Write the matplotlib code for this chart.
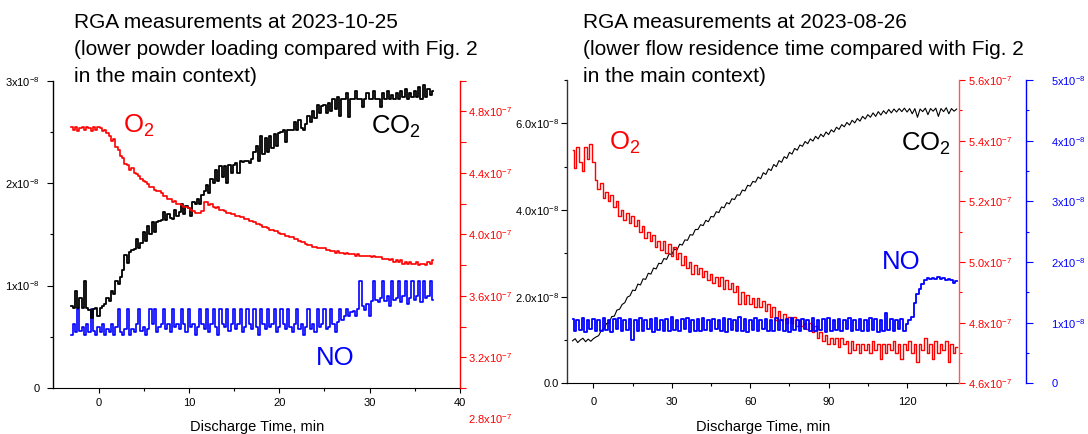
import numpy as np
import matplotlib.pyplot as plt

plt.rcParams['font.family'] = ['Liberation Sans', 'DejaVu Sans']
plt.rcParams['mathtext.fontset'] = 'custom'
plt.rcParams['mathtext.rm'] = 'Liberation Sans'
plt.rcParams['mathtext.it'] = 'Liberation Sans:italic'
plt.rcParams['mathtext.bf'] = 'Liberation Sans:bold'

# ---- left panel: 2023-10-25, one sample every 0.25 min from -3 min ----
co2_a = [  # x1e-8
    0.80, 0.78, 0.95, 0.78, 0.88, 0.78, 1.04, 0.78,
    0.76, 0.68, 0.77, 0.78, 0.70, 0.78, 0.80, 0.82,
    0.88, 0.85, 0.95, 0.92, 1.04, 1.02, 1.08, 1.15,
    1.30, 1.22, 1.33, 1.35, 1.36, 1.45, 1.37, 1.42,
    1.52, 1.44, 1.58, 1.50, 1.62, 1.52, 1.62, 1.63,
    1.64, 1.72, 1.64, 1.70, 1.66, 1.65, 1.74, 1.68,
    1.72, 1.80, 1.70, 1.78, 1.76, 1.68, 1.82, 1.80,
    1.85, 1.80, 1.88, 1.92, 1.98, 1.90, 2.04, 2.00,
    2.13, 2.02, 2.17, 2.06, 2.17, 2.00, 2.18, 2.10,
    2.18, 2.20, 2.10, 2.22, 2.21, 2.22, 2.22, 2.20,
    2.24, 2.30, 2.36, 2.22, 2.46, 2.28, 2.44, 2.30,
    2.46, 2.34, 2.48, 2.36, 2.49, 2.50, 2.52, 2.40,
    2.52, 2.52, 2.52, 2.60, 2.52, 2.62, 2.54, 2.52,
    2.58, 2.66, 2.60, 2.70, 2.64, 2.76, 2.68, 2.75,
    2.76, 2.68, 2.78, 2.70, 2.82, 2.72, 2.84, 2.66,
    2.82, 2.82, 2.88, 2.65, 2.82, 2.82, 2.90, 2.82,
    2.82, 2.74, 2.82, 2.88, 2.82, 2.82, 2.90, 2.82,
    2.82, 2.74, 2.88, 2.82, 2.90, 2.82, 2.86, 2.82,
    2.88, 2.82, 2.90, 2.84, 2.92, 2.82, 2.88, 2.84,
    2.90, 2.84, 2.94, 2.82, 2.96, 2.84, 2.92, 2.86,
    2.90,
]
o2_a = [  # x1e-7
    4.70, 4.68, 4.70, 4.67, 4.69, 4.70, 4.68, 4.70,
    4.69, 4.67, 4.70, 4.68, 4.70, 4.69, 4.67, 4.68,
    4.66, 4.64, 4.61, 4.62, 4.57, 4.55, 4.51, 4.50,
    4.46, 4.45, 4.42, 4.43, 4.40, 4.39, 4.38, 4.36,
    4.35, 4.34, 4.33, 4.31, 4.31, 4.29, 4.28, 4.28,
    4.27, 4.25, 4.25, 4.23, 4.23, 4.21, 4.22, 4.20,
    4.20, 4.19, 4.18, 4.18, 4.17, 4.16, 4.15, 4.14,
    4.14, 4.14, 4.15, 4.21, 4.21, 4.19, 4.20, 4.18,
    4.17, 4.18, 4.16, 4.16, 4.15, 4.14, 4.14, 4.13,
    4.13, 4.12, 4.12, 4.11, 4.11, 4.10, 4.10, 4.09,
    4.09, 4.08, 4.07, 4.07, 4.06, 4.05, 4.05, 4.04,
    4.03, 4.03, 4.02, 4.02, 4.01, 4.00, 4.00, 3.99,
    3.99, 3.98, 3.98, 3.97, 3.97, 3.96, 3.95, 3.95,
    3.94, 3.93, 3.93, 3.92, 3.92, 3.91, 3.91, 3.91,
    3.91, 3.90, 3.90, 3.89, 3.89, 3.88, 3.89, 3.88,
    3.88, 3.87, 3.88, 3.87, 3.87, 3.87, 3.86, 3.87,
    3.86, 3.86, 3.86, 3.86, 3.86, 3.85, 3.86, 3.85,
    3.85, 3.85, 3.84, 3.84, 3.84, 3.83, 3.84, 3.82,
    3.83, 3.82, 3.83, 3.81, 3.82, 3.81, 3.82, 3.81,
    3.81, 3.82, 3.80, 3.81, 3.81, 3.80, 3.82, 3.81,
    3.83,
]
no_a = [  # x1e-8
    0.52, 0.62, 0.55, 0.77, 0.56, 0.60, 0.52, 0.62,
    0.55, 0.77, 0.56, 0.52, 0.60, 0.55, 0.62, 0.52,
    0.58, 0.55, 0.62, 0.52, 0.60, 0.77, 0.55, 0.52,
    0.58, 0.77, 0.52, 0.58, 0.55, 0.62, 0.77, 0.56,
    0.60, 0.52, 0.58, 0.77, 0.62, 0.77, 0.55, 0.60,
    0.62, 0.77, 0.58, 0.62, 0.55, 0.77, 0.60, 0.62,
    0.58, 0.77, 0.62, 0.55, 0.77, 0.60, 0.62, 0.52,
    0.60, 0.77, 0.62, 0.58, 0.77, 0.55, 0.62, 0.77,
    0.60, 0.52, 0.77, 0.62, 0.60, 0.77, 0.56, 0.62,
    0.77, 0.58, 0.62, 0.77, 0.55, 0.60, 0.77, 0.62,
    0.58, 0.77, 0.60, 0.52, 0.77, 0.62, 0.58, 0.77,
    0.60, 0.62, 0.77, 0.55, 0.60, 0.77, 0.62, 0.58,
    0.77, 0.60, 0.55, 0.62, 0.77, 0.58, 0.62, 0.52,
    0.60, 0.77, 0.58, 0.62, 0.55, 0.77, 0.60, 0.62,
    0.77, 0.58, 0.60, 0.77, 0.62, 0.55, 0.64, 0.77,
    0.66, 0.70, 0.77, 0.70, 0.74, 0.75, 0.70, 0.77,
    1.04, 0.80, 0.76, 0.82, 0.70, 0.85, 1.04, 0.86,
    0.84, 0.88, 1.04, 0.85, 0.90, 0.80, 1.04, 0.86,
    0.88, 1.04, 0.84, 0.90, 1.04, 0.82, 0.88, 1.04,
    0.86, 0.90, 1.04, 0.84, 1.04, 0.88, 0.90, 1.04,
    0.86,
]

# ---- right panel: 2023-08-26, one sample per minute from -8 min ----
co2_b = [  # x1e-8
    0.98, 1.03, 0.94, 1.00, 1.04, 0.96, 1.02, 0.97, 1.03, 1.07,
    1.10, 1.22, 1.25, 1.38, 1.39, 1.54, 1.55, 1.69, 1.71, 1.82,
    1.86, 1.99, 2.02, 2.15, 2.14, 2.29, 2.27, 2.41, 2.40, 2.54,
    2.52, 2.66, 2.64, 2.77, 2.76, 2.88, 2.86, 2.99, 2.97, 3.10,
    3.08, 3.21, 3.19, 3.31, 3.30, 3.43, 3.42, 3.55, 3.55, 3.66,
    3.64, 3.76, 3.73, 3.85, 3.84, 3.96, 3.94, 4.07, 4.05, 4.17,
    4.14, 4.26, 4.24, 4.35, 4.34, 4.46, 4.44, 4.57, 4.55, 4.66,
    4.64, 4.76, 4.72, 4.86, 4.82, 4.95, 4.91, 5.05, 5.00, 5.14,
    5.10, 5.23, 5.19, 5.33, 5.29, 5.42, 5.38, 5.50, 5.47, 5.58,
    5.53, 5.64, 5.59, 5.70, 5.64, 5.75, 5.69, 5.80, 5.74, 5.85,
    5.80, 5.91, 5.86, 5.97, 5.92, 6.02, 5.96, 6.07, 6.01, 6.11,
    6.05, 6.16, 6.10, 6.20, 6.14, 6.24, 6.16, 6.27, 6.19, 6.29,
    6.22, 6.32, 6.24, 6.33, 6.26, 6.34, 6.27, 6.35, 6.26, 6.34,
    6.22, 6.34, 6.14, 6.33, 6.27, 6.35, 6.20, 6.34, 6.28, 6.35,
    6.16, 6.34, 6.27, 6.36, 6.22, 6.34, 6.28, 6.33,
]
o2_b = [  # x1e-7
    5.37, 5.31, 5.38, 5.33, 5.30, 5.38, 5.34, 5.39, 5.33, 5.27,
    5.24, 5.26, 5.21, 5.23, 5.20, 5.22, 5.18, 5.20, 5.15, 5.17,
    5.14, 5.16, 5.13, 5.15, 5.12, 5.14, 5.10, 5.12, 5.08, 5.10,
    5.07, 5.09, 5.05, 5.07, 5.04, 5.07, 5.03, 5.06, 5.02, 5.05,
    5.01, 5.03, 4.99, 5.02, 4.98, 5.00, 4.96, 4.99, 4.96, 4.98,
    4.95, 4.97, 4.94, 4.96, 4.93, 4.95, 4.92, 4.95, 4.91, 4.94,
    4.91, 4.93, 4.90, 4.92, 4.86, 4.90, 4.86, 4.89, 4.86, 4.88,
    4.85, 4.88, 4.85, 4.87, 4.84, 4.86, 4.82, 4.85, 4.81, 4.84,
    4.81, 4.83, 4.80, 4.82, 4.80, 4.82, 4.79, 4.81, 4.79, 4.80,
    4.78, 4.80, 4.77, 4.79, 4.75, 4.77, 4.74, 4.76, 4.73, 4.75,
    4.73, 4.75, 4.72, 4.75, 4.73, 4.74, 4.70, 4.74, 4.71, 4.73,
    4.70, 4.73, 4.71, 4.73, 4.70, 4.74, 4.71, 4.73, 4.68, 4.73,
    4.70, 4.73, 4.71, 4.74, 4.70, 4.73, 4.68, 4.73, 4.71, 4.74,
    4.70, 4.73, 4.67, 4.73, 4.71, 4.75, 4.70, 4.73, 4.68, 4.74,
    4.70, 4.73, 4.71, 4.74, 4.67, 4.73, 4.70, 4.72,
]
no_b = [  # x1e-8
    1.06, 0.86, 1.05, 0.88, 1.07, 0.85, 1.04, 0.90, 1.06, 0.87,
    1.05, 0.86, 1.08, 0.88, 1.05, 0.84, 1.06, 0.89, 1.07, 0.86,
    1.04, 0.88, 1.06, 0.72, 1.05, 0.87, 1.08, 0.86, 1.05, 0.89,
    1.06, 0.85, 1.07, 0.88, 1.04, 0.87, 1.06, 0.86, 1.09, 0.88,
    1.05, 0.86, 1.06, 0.89, 1.07, 0.85, 1.05, 0.87, 1.06, 0.86,
    1.08, 0.88, 1.05, 0.86, 1.06, 0.89, 1.04, 0.87, 1.07, 0.85,
    1.06, 0.88, 1.05, 0.86, 1.09, 0.87, 1.06, 0.84, 1.05, 0.88,
    1.07, 0.86, 1.05, 0.89, 1.06, 0.87, 1.04, 0.86, 1.08, 0.88,
    1.05, 0.87, 1.06, 0.85, 1.07, 0.88, 1.05, 0.86, 1.06, 0.89,
    1.04, 0.87, 1.08, 0.86, 1.05, 0.88, 1.06, 0.85, 1.07, 0.87,
    1.05, 0.88, 1.06, 0.86, 1.04, 0.89, 1.07, 0.86, 1.05, 0.88,
    1.06, 0.87, 1.05, 0.86, 1.08, 0.88, 1.06, 0.85, 1.05, 0.87,
    1.16, 0.88, 1.06, 0.86, 1.05, 0.89, 1.06, 0.87,
    0.98, 1.04, 1.10, 1.32, 1.47, 1.55, 1.64, 1.70, 1.73, 1.72,
    1.74, 1.72, 1.75, 1.72, 1.73, 1.71, 1.72, 1.70, 1.66, 1.68,
]

t_a = -3 + 0.25 * np.arange(len(co2_a))
t_b = -8 + np.arange(len(co2_b))

titles = [
    ["RGA measurements at 2023-10-25",
     "(lower powder loading compared with Fig. 2",
     "in the main context)"],
    ["RGA measurements at 2023-08-26",
     "(lower flow residence time compared with Fig. 2",
     "in the main context)"],
]


def sci(v, exp, fmt):
    if v == 0:
        return '0' if fmt == '{:g}' else '0.0'
    return fmt.format(v) + 'x10$^{%d}$' % exp


def style(ax, side, color, lab_pad, tick_len=4):
    ax.tick_params(axis='y', which='both', direction='out', colors=color,
                   labelsize=8, pad=lab_pad, width=0.8)
    ax.tick_params(axis='y', which='major', length=tick_len)
    ax.tick_params(axis='y', which='minor', length=2.5)
    for s in ['top', 'bottom', 'left', 'right']:
        ax.spines[s].set_visible(s == side)
    ax.spines[side].set_color(color)
    ax.spines[side].set_linewidth(1.0)


fig = plt.figure(figsize=(10.88, 4.34), dpi=100)

# ================= left panel =================
ax1 = fig.add_axes([0.049, 0.106, 0.3738, 0.708])
ax1.plot(t_a, np.array(no_a) * 1e-8, color='blue', lw=1.2, drawstyle='steps-mid')
ax1.plot(t_a, np.array(co2_a) * 1e-8, color='black', lw=1.3, drawstyle='steps-mid')
ax1.set_xlim(-5, 40)
ax1.set_ylim(0, 3e-8)
style(ax1, 'left', 'black', 6)
ax1.spines['bottom'].set_visible(True)
ax1.set_yticks([v * 1e-8 for v in [0, 1, 2, 3]],
               labels=[sci(v, -8, '{:g}') for v in [0, 1, 2, 3]])
ax1.set_yticks([v * 1e-8 for v in [0.5, 1.5, 2.5]], minor=True)
ax1.set_xticks([0, 10, 20, 30, 40])
ax1.set_xticks([5, 15, 25, 35], minor=True)
ax1.tick_params(axis='x', which='both', direction='out', labelsize=8, pad=4, width=0.8)
ax1.tick_params(axis='x', which='minor', length=2.5)
ax1.set_xlabel('Discharge Time, min', fontsize=10.5, labelpad=8)

ax1r = ax1.twinx()
ax1r.plot(t_a, np.array(o2_a) * 1e-7, color='red', lw=1.2, drawstyle='steps-mid')
ax1r.set_ylim(3.0e-7, 5.0e-7)
style(ax1r, 'right', 'red', 1.5)
ax1r.set_yticks([v * 1e-7 for v in [3.2, 3.6, 4.0, 4.4, 4.8]],
                labels=[sci(v, -7, '{:.1f}') for v in [3.2, 3.6, 4.0, 4.4, 4.8]])
ax1r.set_yticks([v * 1e-7 for v in [3.0, 3.4, 3.8, 4.2, 4.6, 5.0]], minor=True)
ax1r.tick_params(axis='y', which='minor', length=4)
ax1r.annotate(sci(2.8, -7, '{:.1f}'), xy=(1, 2.8e-7), xycoords=('axes fraction', 'data'),
              xytext=(5.5, 0), textcoords='offset points', ha='left', va='center',
              fontsize=8, color='red', annotation_clip=False)

ax1.text(2.7, 2.49e-8, 'O$_2$', color='red', fontsize=18.5, va='baseline')
ax1.text(30.1, 2.485e-8, 'CO$_2$', color='black', fontsize=18.5, va='baseline')
ax1.text(24.1, 0.224e-8, 'NO', color='blue', fontsize=18.5, va='baseline')

# ================= right panel =================
ax2 = fig.add_axes([0.5214, 0.1168, 0.3603, 0.6989])
ax2.plot(t_b, np.array(co2_b) * 1e-8, color='black', lw=0.8)
ax2.set_xlim(-10, 140)
ax2.set_ylim(0, 7e-8)
style(ax2, 'left', 'black', 2)
ax2.spines['left'].set_color('#333333')
ax2.spines['bottom'].set_visible(True)
ax2.set_yticks([v * 1e-8 for v in [0, 2, 4, 6]],
               labels=[sci(v, -8, '{:.1f}') for v in [0, 2, 4, 6]])
ax2.set_yticks([v * 1e-8 for v in [1, 3, 5, 7]], minor=True)
ax2.set_xticks([0, 30, 60, 90, 120])
ax2.set_xticks([15, 45, 75, 105, 135], minor=True)
ax2.tick_params(axis='x', which='both', direction='out', labelsize=8, pad=6, width=0.8)
ax2.tick_params(axis='x', which='minor', length=2.5)
ax2.set_xlabel('Discharge Time, min', fontsize=10.5, labelpad=10)

ax2r = ax2.twinx()
ax2r.plot(t_b, np.array(o2_b) * 1e-7, color='red', lw=1.0, drawstyle='steps-mid')
ax2r.set_ylim(4.6e-7, 5.6e-7)
style(ax2r, 'right', 'red', 2.5)
ax2r.spines['right'].set_color('#ff5a5a')
r_major = [4.6, 4.8, 5.0, 5.2, 5.4, 5.6]
ax2r.set_yticks([v * 1e-7 for v in r_major], labels=[sci(v, -7, '{:.1f}') for v in r_major])
ax2r.set_yticks([v * 1e-7 for v in [4.7, 4.9, 5.1, 5.3, 5.5]], minor=True)

ax2b = ax2.twinx()
ax2b.plot(t_b, np.array(no_b) * 1e-8, color='blue', lw=1.3, drawstyle='steps-mid')
ax2b.set_ylim(0, 5e-8)
style(ax2b, 'right', 'blue', 13, tick_len=5)
ax2b.spines['right'].set_position(('axes', 1.1714))
b_major = [0, 1, 2, 3, 4, 5]
ax2b.set_yticks([v * 1e-8 for v in b_major], labels=[sci(v, -8, '{:g}') for v in b_major])
ax2b.set_yticks([v * 1e-8 for v in [0.5, 1.5, 2.5, 3.5, 4.5]], minor=True)

ax2.text(5.8, 5.38e-8, 'O$_2$', color='red', fontsize=18.5, va='baseline')
ax2.text(117.7, 5.37e-8, 'CO$_2$', color='black', fontsize=18.5, va='baseline')
ax2.text(110.5, 2.63e-8, 'NO', color='blue', fontsize=18.5, va='baseline')

# ---- titles ----
for x0, lines in zip([0.068, 0.5356], titles):
    for y0, line in zip([0.9355, 0.8733, 0.811], lines):
        fig.text(x0, y0, line, fontsize=15, va='baseline', ha='left')

fig.savefig('out.png', dpi=100)
